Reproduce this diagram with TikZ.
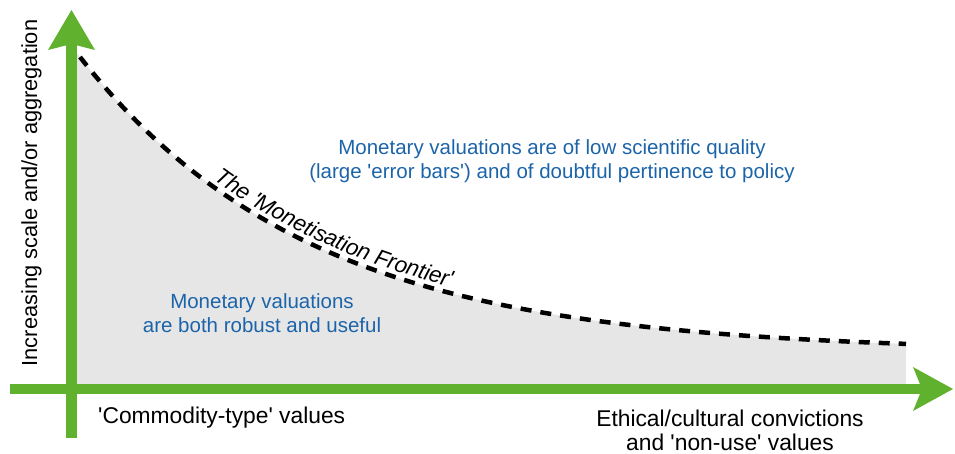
\documentclass[tikz,border=0pt]{standalone}
\usepackage{fontspec}
\setmainfont{Liberation Sans}[Ligatures=TeXOff]
\usetikzlibrary{decorations.text}
\definecolor{axisgreen}{RGB}{96,178,46}
\definecolor{notegray}{RGB}{230,230,230}
\definecolor{noteblue}{RGB}{28,100,170}
\begin{document}
\begin{tikzpicture}[x=1pt,y=-1pt,
  axisbar/.style={draw=axisgreen, line width=10.5pt},
  axishead/.style={fill=axisgreen},
  frontier/.style={line width=4.5pt, dash pattern=on 11pt off 9pt},
  bluenote/.style={text=noteblue, font=\fontsize{20.5}{24}\selectfont, align=center, inner sep=0pt},
  blacknote/.style={font=\fontsize{22.8}{24}\selectfont, align=center, inner sep=0pt}]
\useasboundingbox (0,0) rectangle (955,453);

% region below the frontier
\fill[notegray] (77,384) -- plot[domain=77:906,samples=120] (\x,{352-295*exp(-(\x-80)/230)}) -- (906,384) -- cycle;

% vertical axis
\coordinate (ybot) at (71.5,438);
\coordinate (ytip) at (71.5,10);
\coordinate (ynotch) at (71.5,44);
\draw[axisbar] (ybot) -- (ynotch);
\fill[axishead] (ytip) -- (95,50) -- (ynotch) -- (48,50) -- cycle;

% horizontal axis
\coordinate (xleft) at (10,389);
\coordinate (xtip) at (953,389);
\coordinate (xnotch) at (922,389);
\draw[axisbar] (xleft) -- (xnotch);
\fill[axishead] (xtip) -- (913,411) -- (xnotch) -- (913,367) -- cycle;

% the frontier curve and its label
\draw[frontier] plot[domain=80:906,samples=120] (\x,{352-295*exp(-(\x-80)/230)});
\path[decorate, decoration={text along path,
    text={|\itshape\fontsize{22.5}{24}\selectfont|The 'Monetisation Frontier'},
    text align={left indent=182pt}, raise=6pt}]
  plot[domain=80:906,samples=120] (\x,{352-295*exp(-(\x-80)/230)});

% annotations (base anchor = baseline of the last line)
\node[bluenote, anchor=base] (upper) at (552,178)
  {Monetary valuations are of low scientific quality\\(large 'error bars') and of doubtful pertinence to policy};
\node[bluenote, anchor=base] (lower) at (262,332)
  {Monetary valuations\\are both robust and useful};
\node[blacknote, anchor=base west] (commodity) at (98,423) {'Commodity-type' values};
\node[blacknote, anchor=base] (ethical) at (730,450) {Ethical/cultural convictions\\and 'non-use' values};
\node[blacknote, font=\fontsize{21.8}{24}\selectfont, rotate=90, anchor=base] (yaxis) at (37,193) {Increasing scale and/or aggregation};
\end{tikzpicture}
\end{document}
